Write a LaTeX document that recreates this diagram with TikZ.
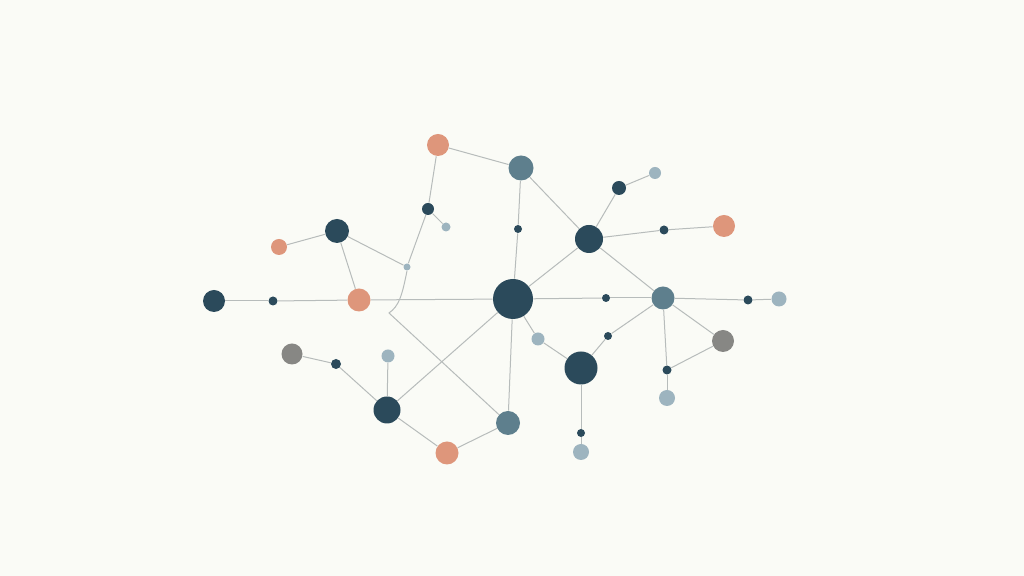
\documentclass[tikz,border=0pt]{standalone}
\usepackage{tikz}
\newcommand{\px}{0.5pt}
\definecolor{navy}{HTML}{2B4A5B}
\definecolor{slate}{HTML}{5E7F8D}
\definecolor{salmon}{HTML}{DE967B}
\definecolor{pale}{HTML}{9DB4BF}
\definecolor{ash}{HTML}{878784}
\definecolor{wire}{HTML}{B7BCBB}
\definecolor{paper}{HTML}{FAFBF6}

\begin{document}
\begin{tikzpicture}[x=\px, y=-\px,
    dot/.style={circle, draw=none, inner sep=0pt, minimum size=#1*\px*2},
    navydot/.style={dot=#1, fill=navy},
    slatedot/.style={dot=#1, fill=slate},
    salmondot/.style={dot=#1, fill=salmon},
    paledot/.style={dot=#1, fill=pale},
    ashdot/.style={dot=#1, fill=ash},
    link/.style={draw=wire, line width=0.5pt}]
    \fill[paper] (0,0) rectangle (1024,576);
    \useasboundingbox (0,0) rectangle (1024,576);

    % Hub
    \node[navydot=20] (hub) at (513,299) {};

    % Left branch
    \node[navydot=11] (left-1) at (214,301) {};
    \node[navydot=4.5] (left-2) at (273,301) {};
    \node[salmondot=11.5] (left-3) at (359,300) {};
    \node[navydot=12] (left-4) at (337,231) {};
    \node[salmondot=8] (left-5) at (279,247) {};

    % Upper left branch
    \node[salmondot=11] (up-1) at (438,145) {};
    \node[navydot=6] (up-2) at (428,209) {};
    \node[paledot=4.5] (up-3) at (446,227) {};
    \node[paledot=3.5] (up-4) at (407,267) {};
    \coordinate (bend) at (389,313);

    % Upper right branch
    \node[slatedot=12.5] (ur-1) at (521,168) {};
    \node[navydot=4] (ur-2) at (518,229) {};
    \node[navydot=14] (ur-3) at (589,239) {};
    \node[navydot=7] (ur-4) at (619,188) {};
    \node[paledot=6] (ur-5) at (655,173) {};
    \node[navydot=4.5] (ur-6) at (664,230) {};
    \node[salmondot=11] (ur-7) at (724,226) {};

    % Right branch
    \node[navydot=4] (right-1) at (606,298) {};
    \node[slatedot=11.5] (right-2) at (663,298) {};
    \node[navydot=4.5] (right-3) at (748,300) {};
    \node[paledot=7.5] (right-4) at (779,299) {};
    \node[ashdot=11] (right-5) at (723,341) {};
    \node[navydot=4.5] (right-6) at (667,370) {};
    \node[paledot=8] (right-7) at (667,398) {};

    % Lower right branch
    \node[paledot=6.5] (lr-1) at (538,339) {};
    \node[navydot=4] (lr-2) at (608,336) {};
    \node[navydot=16.5] (lr-3) at (581,368) {};
    \node[navydot=4] (lr-4) at (581,433) {};
    \node[paledot=8] (lr-5) at (581,452) {};

    % Lower left branch
    \node[slatedot=12] (low-1) at (508,423) {};
    \node[salmondot=11.5] (low-2) at (447,453) {};
    \node[navydot=13.5] (low-3) at (387,410) {};
    \node[paledot=6.5] (low-4) at (388,356) {};
    \node[navydot=5] (low-5) at (336,364) {};
    \node[ashdot=10.5] (low-6) at (292,354) {};

    % Links
    \draw[link] (left-1) -- (left-2);
    \draw[link] (left-2) -- (left-3);
    \draw[link] (left-3) -- (hub);
    \draw[link] (left-5) -- (left-4);
    \draw[link] (left-4) -- (left-3);
    \draw[link] (left-4) -- (up-4);
    \draw[link] (up-1) -- (up-2);
    \draw[link] (up-1) -- (ur-1);
    \draw[link] (up-2) -- (up-3);
    \draw[link] (up-2) -- (up-4);
    \draw[link] (up-4.south) .. controls (402,296) and (399,306) .. (bend) -- (low-1);
    \draw[link] (ur-1) -- (ur-2);
    \draw[link] (ur-2) -- (hub);
    \draw[link] (ur-1) -- (ur-3);
    \draw[link] (ur-3) -- (ur-4);
    \draw[link] (ur-4) -- (ur-5);
    \draw[link] (ur-3) -- (ur-6);
    \draw[link] (ur-6) -- (ur-7);
    \draw[link] (ur-3) -- (hub);
    \draw[link] (ur-3) -- (right-2);
    \draw[link] (hub) -- (right-1);
    \draw[link] (right-1) -- (right-2);
    \draw[link] (right-2) -- (right-3);
    \draw[link] (right-3) -- (right-4);
    \draw[link] (right-2) -- (right-5);
    \draw[link] (right-2) -- (right-6);
    \draw[link] (right-6) -- (right-5);
    \draw[link] (right-6) -- (right-7);
    \draw[link] (hub) -- (lr-1);
    \draw[link] (lr-1) -- (lr-3);
    \draw[link] (lr-3) -- (lr-2);
    \draw[link] (lr-2) -- (right-2);
    \draw[link] (lr-3) -- (lr-4);
    \draw[link] (lr-4) -- (lr-5);
    \draw[link] (hub) -- (low-1);
    \draw[link] (hub) -- (low-3);
    \draw[link] (low-1) -- (low-2);
    \draw[link] (low-2) -- (low-3);
    \draw[link] (low-3) -- (low-4);
    \draw[link] (low-3) -- (low-5);
    \draw[link] (low-5) -- (low-6);

\end{tikzpicture}
\end{document}
